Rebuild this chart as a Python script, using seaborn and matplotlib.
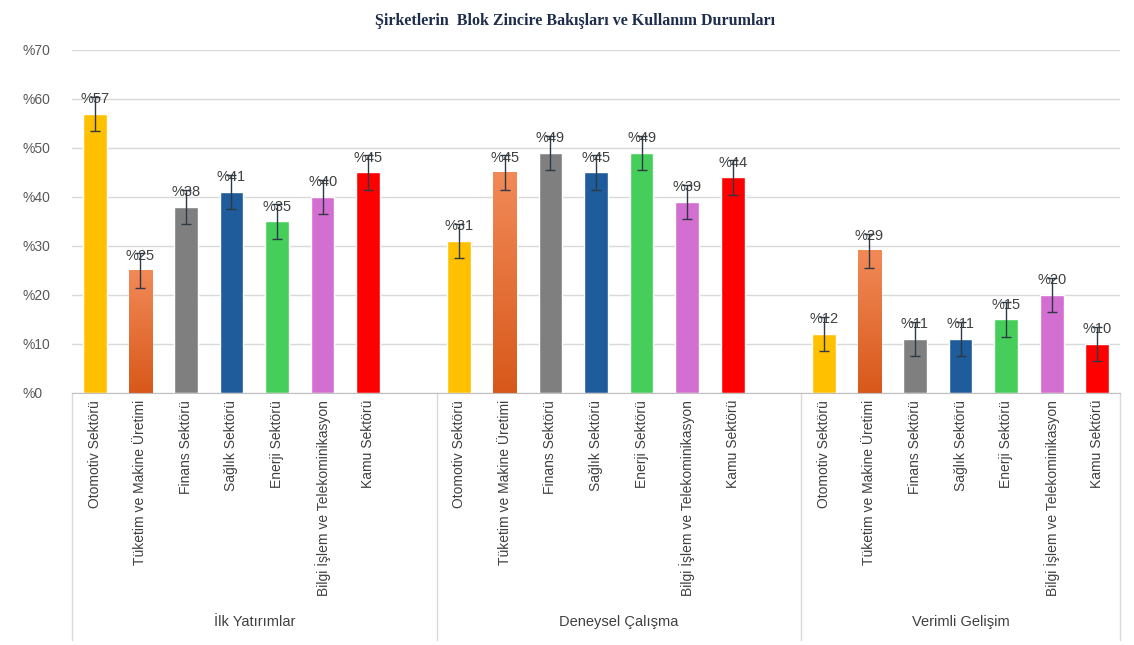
import numpy as np
import pandas as pd
import matplotlib
matplotlib.use("Agg")
import matplotlib.pyplot as plt
import matplotlib.transforms as mtransforms
from matplotlib.colors import LinearSegmentedColormap, to_hex
from matplotlib.lines import Line2D
import seaborn as sns

# ==========================================
# 1. DATA
# ==========================================
groups = ["İlk Yatırımlar", "Deneysel Çalışma", "Verimli Gelişim"]
sectors = [
    "Otomotiv Sektörü",
    "Tüketim ve Makine Üretimi",
    "Finans Sektörü",
    "Sağlık Sektörü",
    "Enerji Sektörü",
    "Bilgi İşlem ve Telekominikasyon",
    "Kamu Sektörü",
]
ilk_yatirimlar = [57, 25, 38, 41, 35, 40, 45]
deneysel_calisma = [31, 45, 49, 45, 49, 39, 44]
verimli_gelisim = [12, 29, 11, 11, 15, 20, 10]
error = 3.5

sector_colors = {
    "Otomotiv Sektörü": "#FFC000",
    "Tüketim ve Makine Üretimi": "#EC7438",
    "Finans Sektörü": "#7F7F7F",
    "Sağlık Sektörü": "#1F5C9B",
    "Enerji Sektörü": "#45CF5A",
    "Bilgi İşlem ve Telekominikasyon": "#D36FD0",
    "Kamu Sektörü": "#FF0000",
}

rows = []
for g, (name, vals) in enumerate(zip(groups, [ilk_yatirimlar, deneysel_calisma, verimli_gelisim])):
    for i, (s, v) in enumerate(zip(sectors, vals)):
        rows.append({"group": name, "sector": s, "value": v, "pos": g * 8 + i})
df = pd.DataFrame(rows)

# ==========================================
# 2. FIGURE
# ==========================================
sns.set_style("white")
plt.rcParams["font.family"] = ["Liberation Sans Narrow", "Liberation Sans", "DejaVu Sans"]

fig = plt.figure(figsize=(11.34, 6.45), dpi=100)
ax = fig.add_axes([0.0635, 0.3907, 0.9242, 0.5318])

sns.barplot(
    data=df, x="pos", y="value", hue="sector", palette=sector_colors,
    native_scale=True, width=0.52, dodge=False, legend=False,
    errorbar=None, saturation=1, ax=ax, zorder=2,
)

# gradient on the orange bars
orange_cmap = LinearSegmentedColormap.from_list("org", ["#D8581A", "#F28A58"])
grad = np.linspace(0, 1, 256).reshape(-1, 1)
for p in list(ax.patches):
    if to_hex(p.get_facecolor()).upper() == sector_colors["Tüketim ve Makine Üretimi"]:
        x0, y0 = p.get_x(), p.get_y()
        w, h = p.get_width(), p.get_height()
        ax.imshow(grad, extent=[x0, x0 + w, y0, y0 + h], origin="lower",
                  aspect="auto", cmap=orange_cmap, zorder=2.1)

ax.errorbar(df["pos"], df["value"], yerr=error, fmt="none",
            ecolor="#2E3946", elinewidth=1, capsize=3.5, capthick=1, zorder=4)

for _, r in df.iterrows():
    ax.text(r["pos"], r["value"] + 1.6, f"%{r['value']}", ha="center", va="bottom",
            fontsize=10.5, color="#404040", family=["Liberation Sans", "DejaVu Sans"], zorder=3)

ax.set_xlim(-0.5, 22.5)
ax.set_ylim(0, 70)
ax.set_yticks(range(0, 71, 10))
ax.set_yticklabels([f"%{v}" for v in range(0, 71, 10)], fontsize=10, color="#595959")
ax.tick_params(axis="y", length=0, pad=36)
for lbl in ax.get_yticklabels():
    lbl.set_horizontalalignment("left")
ax.yaxis.grid(True, color="#D9D9D9", linewidth=1)
ax.set_axisbelow(True)

ax.set_xticks(df["pos"])
ax.set_xticklabels(df["sector"], rotation=90, fontsize=10, color="#404040", va="top")
ax.tick_params(axis="x", length=0, pad=5)
ax.set_xlabel("")
ax.set_ylabel("")

for side in ["top", "right", "left"]:
    ax.spines[side].set_visible(False)
ax.spines["bottom"].set_color("#BFBFBF")

# group separators and group names
sep_trans = mtransforms.blended_transform_factory(ax.transData, ax.transAxes)
for x in [-0.5, 7.5, 15.5, 22.5]:
    ax.add_line(Line2D([x, x], [0, -0.72], transform=sep_trans, color="#D9D9D9",
                       linewidth=1, clip_on=False))

name_trans = mtransforms.blended_transform_factory(ax.transData, fig.transFigure)
for name, xc in zip(groups, [3.5, 11.5, 19.0]):
    fig.text(xc, 0.036, name, transform=name_trans, ha="center", va="center",
             fontsize=10.5, color="#404040", family=["Liberation Sans", "DejaVu Sans"])

fig.text(0.507, 0.968, "Şirketlerin  Blok Zincire Bakışları ve Kullanım Durumları",
         ha="center", va="center", fontsize=11.5, fontweight="bold", color="#1F2D4D",
         family=["Liberation Serif", "DejaVu Serif"])

fig.savefig("out.png", dpi=100)
